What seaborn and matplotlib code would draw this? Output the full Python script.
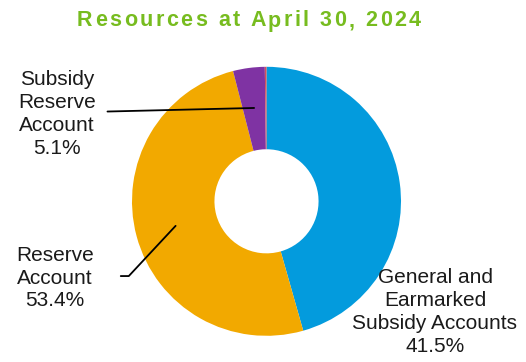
"""Donut chart of resources at April 30, 2024."""

import matplotlib

matplotlib.use("Agg")
import matplotlib.pyplot as plt
import numpy as np
import seaborn as sns

W, H, DPI = 526, 362, 100

TITLE = "Resources at April 30, 2024"
SEGMENTS = [
    "General and\nEarmarked\nSubsidy Accounts",
    "Reserve\nAccount",
    "Subsidy\nReserve\nAccount",
    "",
]
# wedge sizes as drawn in the ring (clockwise from 12 o'clock)
RING_SHARE = [45.6, 50.4, 3.8, 0.2]
LABEL_PCT = ["41.5%", "53.4%", "5.1%", ""]
COLORS = ["#039BDD", "#F2A900", "#7F33A3", "#D0505C"]

TITLE_COLOR = "#77BC1F"
TEXT_COLOR = "#1A1A1A"


def main() -> None:
    sns.set_theme(style="white")
    plt.rcParams["font.family"] = ["Liberation Sans", "DejaVu Sans"]

    fig = plt.figure(figsize=(W / DPI, H / DPI), dpi=DPI)
    cx, cy, r = 266.5, 201.3, 134.5
    ax = fig.add_axes([(cx - r) / W, (H - cy - r) / H, 2 * r / W, 2 * r / H])
    wedges, _ = ax.pie(
        RING_SHARE,
        colors=COLORS,
        startangle=90,
        counterclock=False,
        radius=1,
        wedgeprops=dict(width=0.613, linewidth=0),
    )
    ax.set_xlim(-1, 1)
    ax.set_ylim(-1, 1)
    ax.axis("off")

    # label text block centres in pixels from top-left, plus leader settings
    label_xy = [(435, 312), (55, 278), (57, 114)]
    leaders = [
        None,
        dict(relpos=(1, 0.53), shrinkA=17, connectionstyle="angle,angleA=0,angleB=47,rad=0"),
        dict(relpos=(1, 0.525), shrinkA=6, connectionstyle="arc3"),
    ]
    for i, (x, y) in enumerate(label_xy):
        w = wedges[i]
        mid = np.deg2rad((w.theta1 + w.theta2) / 2)
        txt = f"{SEGMENTS[i]}\n{LABEL_PCT[i]}"
        arrow = None
        if leaders[i] is not None:
            arrow = dict(arrowstyle="-", color="black", lw=1.3, shrinkB=0, **leaders[i])
        ax.annotate(
            txt,
            xy=(0.7 * np.cos(mid), 0.7 * np.sin(mid)),
            xycoords="data",
            xytext=(x, H - y),
            textcoords="figure pixels",
            ha="center",
            va="center",
            multialignment="center",
            fontsize=15,
            color=TEXT_COLOR,
            linespacing=1.26,
            arrowprops=arrow,
        )

    # title with loose letter spacing, one glyph at a time
    renderer = fig.canvas.get_renderer()
    kw = dict(fontsize=15.5, fontweight="bold", color=TITLE_COLOR)

    def text_w(s: str) -> float:
        t = fig.text(0, 0, s + "|", **kw)
        wd = t.get_window_extent(renderer).width
        t.remove()
        return wd

    bar_w = text_w("")
    widths = [text_w(TITLE[:i]) - bar_w for i in range(len(TITLE) + 1)]
    total = 344
    spacing = (total - widths[-1]) / (len(TITLE) - 1)
    x0 = 249 - total / 2
    for i, ch in enumerate(TITLE):
        if ch == " ":
            continue
        fig.text(
            (x0 + widths[i] + i * spacing) / W,
            1 - 26.5 / H,
            ch,
            ha="left",
            va="baseline",
            **kw,
        )

    fig.savefig("out.png", dpi=DPI)
    plt.close(fig)


if __name__ == "__main__":
    main()
